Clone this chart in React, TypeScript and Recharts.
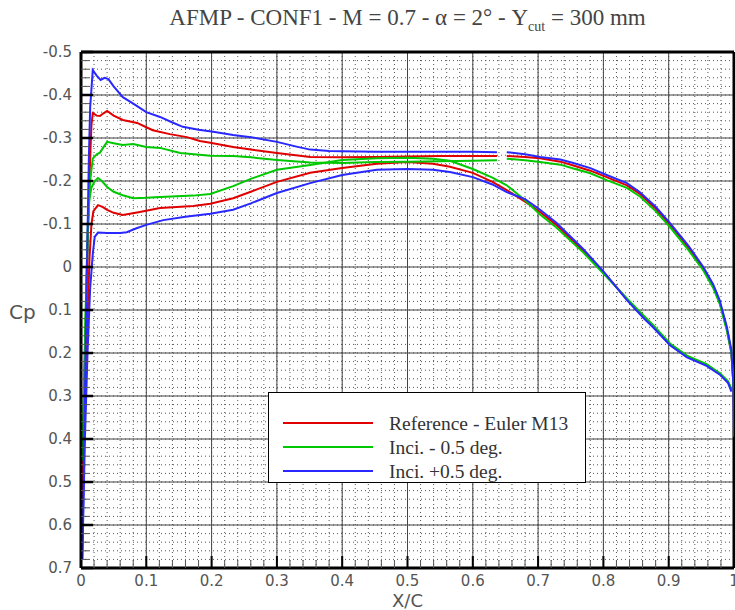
import React from 'react';
import { LineChart, Line, XAxis, YAxis, CartesianGrid, ReferenceLine } from 'recharts';

type Pt = [number, number | null];

// Cp distributions: [x/c, Cp]
const refUpper: Pt[] = [
  [0.002, 0.55], [0.005, 0.3], [0.008, 0.08], [0.011, -0.1], [0.014, -0.25], [0.016, -0.33], [0.018, -0.358],
  [0.024, -0.352], [0.029, -0.351], [0.035, -0.358], [0.04, -0.363], [0.05, -0.352], [0.064, -0.342],
  [0.086, -0.335], [0.1, -0.325], [0.11, -0.318], [0.136, -0.309], [0.162, -0.302], [0.182, -0.293],
  [0.198, -0.289], [0.233, -0.279], [0.26, -0.273], [0.3, -0.265], [0.351, -0.256], [0.4, -0.255],
  [0.45, -0.256], [0.5, -0.257], [0.55, -0.258], [0.6, -0.258], [0.637, -0.258], [0.645, null],
  [0.652, -0.258], [0.68, -0.256], [0.703, -0.253], [0.734, -0.245], [0.754, -0.236], [0.78, -0.224],
  [0.805, -0.209], [0.836, -0.19], [0.856, -0.17], [0.88, -0.136], [0.902, -0.098], [0.93, -0.045],
  [0.953, 0.004], [0.968, 0.045], [0.978, 0.082], [0.989, 0.144], [0.996, 0.2], [0.999, 0.27], [1.0, 0.34],
];
const refLower: Pt[] = [
  [0.002, 0.55], [0.006, 0.35], [0.01, 0.12], [0.013, -0.02], [0.016, -0.1], [0.019, -0.13], [0.026, -0.144],
  [0.033, -0.14], [0.04, -0.133], [0.05, -0.126], [0.064, -0.121], [0.075, -0.124], [0.09, -0.128],
  [0.121, -0.137], [0.172, -0.142], [0.198, -0.147], [0.233, -0.16], [0.26, -0.175], [0.3, -0.198],
  [0.351, -0.219], [0.4, -0.23], [0.453, -0.24], [0.5, -0.244], [0.539, -0.24], [0.565, -0.233],
  [0.6, -0.219], [0.63, -0.198], [0.652, -0.179], [0.68, -0.152], [0.703, -0.128], [0.728, -0.098],
  [0.769, -0.038], [0.8, 0.012], [0.836, 0.075], [0.861, 0.115], [0.876, 0.138], [0.902, 0.18],
  [0.928, 0.208], [0.958, 0.228], [0.979, 0.25], [0.991, 0.268], [0.996, 0.285],
];
const minusUpper: Pt[] = [
  [0.002, 0.45], [0.005, 0.25], [0.008, 0.05], [0.011, -0.1], [0.014, -0.2], [0.018, -0.252], [0.024, -0.262],
  [0.029, -0.266], [0.035, -0.28], [0.04, -0.291], [0.05, -0.288], [0.064, -0.284], [0.08, -0.286],
  [0.1, -0.279], [0.121, -0.277], [0.152, -0.265], [0.198, -0.259], [0.233, -0.258], [0.26, -0.255],
  [0.3, -0.249], [0.351, -0.243], [0.4, -0.242], [0.45, -0.244], [0.5, -0.245], [0.55, -0.246],
  [0.6, -0.247], [0.637, -0.248], [0.645, null], [0.652, -0.252], [0.68, -0.248], [0.703, -0.244],
  [0.734, -0.238], [0.754, -0.229], [0.78, -0.218], [0.805, -0.202], [0.836, -0.184], [0.856, -0.164],
  [0.88, -0.13], [0.902, -0.093], [0.93, -0.04], [0.953, 0.008], [0.968, 0.048], [0.978, 0.085],
  [0.989, 0.147], [0.996, 0.2], [0.999, 0.27], [1.0, 0.33],
];
const minusLower: Pt[] = [
  [0.002, 0.45], [0.005, 0.25], [0.008, 0.05], [0.01, -0.08], [0.012, -0.15], [0.016, -0.185], [0.021, -0.2],
  [0.026, -0.207], [0.032, -0.2], [0.04, -0.186], [0.05, -0.175], [0.064, -0.167], [0.08, -0.16],
  [0.1, -0.161], [0.121, -0.163], [0.172, -0.166], [0.198, -0.17], [0.233, -0.188], [0.26, -0.205],
  [0.3, -0.226], [0.351, -0.237], [0.4, -0.249], [0.453, -0.253], [0.5, -0.254], [0.539, -0.252],
  [0.565, -0.247], [0.6, -0.228], [0.63, -0.208], [0.652, -0.19], [0.68, -0.155], [0.703, -0.122],
  [0.728, -0.092], [0.769, -0.034], [0.8, 0.015], [0.836, 0.073], [0.861, 0.112], [0.876, 0.135],
  [0.902, 0.178], [0.928, 0.206], [0.958, 0.226], [0.979, 0.248], [0.991, 0.266], [0.996, 0.283],
];
const plusUpper: Pt[] = [
  [0.002, 0.68], [0.004, 0.5], [0.006, 0.3], [0.008, 0.1], [0.01, -0.08], [0.012, -0.25], [0.014, -0.37],
  [0.018, -0.458], [0.024, -0.445], [0.03, -0.435], [0.036, -0.44], [0.042, -0.437], [0.05, -0.42],
  [0.064, -0.395], [0.08, -0.38], [0.1, -0.36], [0.121, -0.349], [0.14, -0.336], [0.156, -0.326],
  [0.18, -0.319], [0.2, -0.315], [0.233, -0.307], [0.26, -0.302], [0.3, -0.291], [0.33, -0.28],
  [0.351, -0.273], [0.38, -0.27], [0.4, -0.269], [0.45, -0.268], [0.5, -0.268], [0.55, -0.268],
  [0.6, -0.268], [0.637, -0.267], [0.645, null], [0.652, -0.267], [0.68, -0.262], [0.703, -0.256],
  [0.734, -0.25], [0.754, -0.242], [0.78, -0.23], [0.805, -0.214], [0.836, -0.195], [0.856, -0.174],
  [0.88, -0.14], [0.902, -0.102], [0.93, -0.05], [0.953, 0.0], [0.968, 0.04], [0.978, 0.077],
  [0.989, 0.139], [0.996, 0.193], [0.999, 0.27], [1.0, 0.395],
];
const plusLower: Pt[] = [
  [0.002, 0.68], [0.006, 0.4], [0.01, 0.2], [0.014, 0.05], [0.018, -0.03], [0.021, -0.07], [0.026, -0.08],
  [0.04, -0.079], [0.06, -0.079], [0.07, -0.081], [0.085, -0.09], [0.1, -0.098], [0.126, -0.109],
  [0.16, -0.117], [0.198, -0.124], [0.233, -0.133], [0.26, -0.148], [0.3, -0.172], [0.351, -0.195],
  [0.4, -0.214], [0.453, -0.226], [0.5, -0.228], [0.539, -0.226], [0.565, -0.221], [0.6, -0.209],
  [0.63, -0.192], [0.652, -0.174], [0.68, -0.158], [0.703, -0.133], [0.728, -0.103], [0.769, -0.042],
  [0.8, 0.01], [0.836, 0.077], [0.861, 0.118], [0.876, 0.14], [0.902, 0.182], [0.928, 0.21],
  [0.958, 0.23], [0.979, 0.251], [0.991, 0.27], [0.996, 0.29],
];

const seriesNames = ['Reference - Euler M13', 'Inci. - 0.5 deg.', 'Inci. +0.5 deg.'];
const seriesColors = ['#e00000', '#00c800', '#2828ff'];
const xMajor = [0, 0.1, 0.2, 0.3, 0.4, 0.5, 0.6, 0.7, 0.8, 0.9, 1];
const yMajor = [-0.5, -0.4, -0.3, -0.2, -0.1, 0, 0.1, 0.2, 0.3, 0.4, 0.5, 0.6, 0.7];

const series = [
  { name: seriesNames[0], color: seriesColors[0], parts: [refUpper, refLower] },
  { name: seriesNames[1], color: seriesColors[1], parts: [minusUpper, minusLower] },
  { name: seriesNames[2], color: seriesColors[2], parts: [plusUpper, plusLower] },
];

const toRows = (pts: Pt[]) => pts.map(([x, cp]) => ({ x, cp }));

// minor ticks every 0.02
const minorTicks = (from: number, to: number) => {
  const out: number[] = [];
  const n = Math.round((to - from) / 0.02);
  for (let i = 0; i <= n; i++) out.push(+(from + i * 0.02).toFixed(2));
  return out;
};
const xTicks = minorTicks(0, 1);
const yTicks = minorTicks(-0.5, 0.7);
const isMajor = (v: number) => Math.abs(v * 10 - Math.round(v * 10)) < 1e-6;
const fmt = (v: number) => String(Math.round(v * 10) / 10);

const labelFont = '"DejaVu Sans", sans-serif';
const serifFont = '"Liberation Serif", serif';

const XTick = (props: any) => {
  const { x, y, payload } = props;
  const major = isMajor(payload.value);
  return (
    <g>
      <line x1={x} x2={x} y1={y} y2={y - (major ? 12 : 8)} stroke={major ? '#000' : '#555'} strokeWidth={major ? 2 : 1} />
      {major && (
        <text x={x} y={y + 18} textAnchor="middle" fontFamily={labelFont} fontSize={15} fill="#555">
          {fmt(payload.value)}
        </text>
      )}
    </g>
  );
};

const YTick = (props: any) => {
  const { x, y, payload } = props;
  const major = isMajor(payload.value);
  return (
    <g>
      <line x1={x} x2={x + (major ? 12 : 8)} y1={y} y2={y} stroke={major ? '#000' : '#555'} strokeWidth={major ? 2.5 : 1} />
      {major && (
        <text x={x - 9} y={y + 5} textAnchor="end" fontFamily={labelFont} fontSize={15} fill="#555">
          {fmt(payload.value)}
        </text>
      )}
    </g>
  );
};

export default function App() {
  return (
    <div style={{ position: 'absolute', left: 0, top: 0, width: 735, height: 610, background: '#fff', overflow: 'hidden' }}>
      <div
        style={{
          position: 'absolute', left: 81, top: 5, width: 653, textAlign: 'center',
          fontFamily: serifFont, fontSize: 23, color: '#444', whiteSpace: 'nowrap',
        }}
      >
        AFMP - CONF1 - M = 0.7 - α = 2° - Y<sub style={{ fontSize: 14 }}>cut</sub> = 300 mm
      </div>
      <LineChart width={735} height={610} margin={{ top: 52, right: 1, left: 0, bottom: 0 }}>
        <CartesianGrid stroke="#555" strokeDasharray="1 3" />
        <XAxis
          type="number" dataKey="x" domain={[0, 1]} ticks={xTicks} interval={0} allowDataOverflow
          height={42} tickSize={0} tickMargin={0} tickLine={false} tick={<XTick />}
          axisLine={{ stroke: '#000', strokeWidth: 3 }}
        />
        <YAxis
          type="number" dataKey="cp" domain={[-0.5, 0.7]} reversed ticks={yTicks} interval={0} allowDataOverflow
          width={81} tickSize={0} tickMargin={0} tickLine={false} tick={<YTick />}
          axisLine={{ stroke: '#000', strokeWidth: 3 }}
        />
        {xMajor.slice(1, -1).map((v) => (
          <ReferenceLine key={'x' + v} x={v} stroke="#444" strokeWidth={1} />
        ))}
        {yMajor.slice(1, -1).map((v) => (
          <ReferenceLine key={'y' + v} y={v} stroke="#444" strokeWidth={1} />
        ))}
        <ReferenceLine y={-0.5} stroke="#000" strokeWidth={3} />
        <ReferenceLine x={1} stroke="#000" strokeWidth={3} />
        {series.map((s) =>
          s.parts.map((p, i) => (
            <Line
              key={s.name + i} data={toRows(p)} dataKey="cp" type="linear" stroke={s.color}
              strokeWidth={2} dot={false} isAnimationActive={false} connectNulls={false}
            />
          ))
        )}
      </LineChart>
      <div
        style={{
          position: 'absolute', left: 9, top: 300, fontFamily: labelFont, fontSize: 20, color: '#555',
        }}
      >
        Cp
      </div>
      <div
        style={{
          position: 'absolute', left: 81, top: 591, width: 653, textAlign: 'center',
          fontFamily: labelFont, fontSize: 18, lineHeight: '19px', color: '#555',
        }}
      >
        X/C
      </div>
      <div
        style={{
          position: 'absolute', left: 268, top: 392, width: 318, height: 91, boxSizing: 'border-box',
          border: '1px solid #000', background: '#fff',
        }}
      >
        <svg width={316} height={89} style={{ position: 'absolute', left: 0, top: 0 }}>
          {series.map((s, i) => (
            <g key={s.name}>
              <line x1={14} x2={104} y1={30 + i * 24} y2={30 + i * 24} stroke={s.color} strokeWidth={2} />
              <text x={120} y={37 + i * 24} fontFamily={serifFont} fontSize={19.5} fill="#333">
                {s.name}
              </text>
            </g>
          ))}
        </svg>
      </div>
    </div>
  );
}
